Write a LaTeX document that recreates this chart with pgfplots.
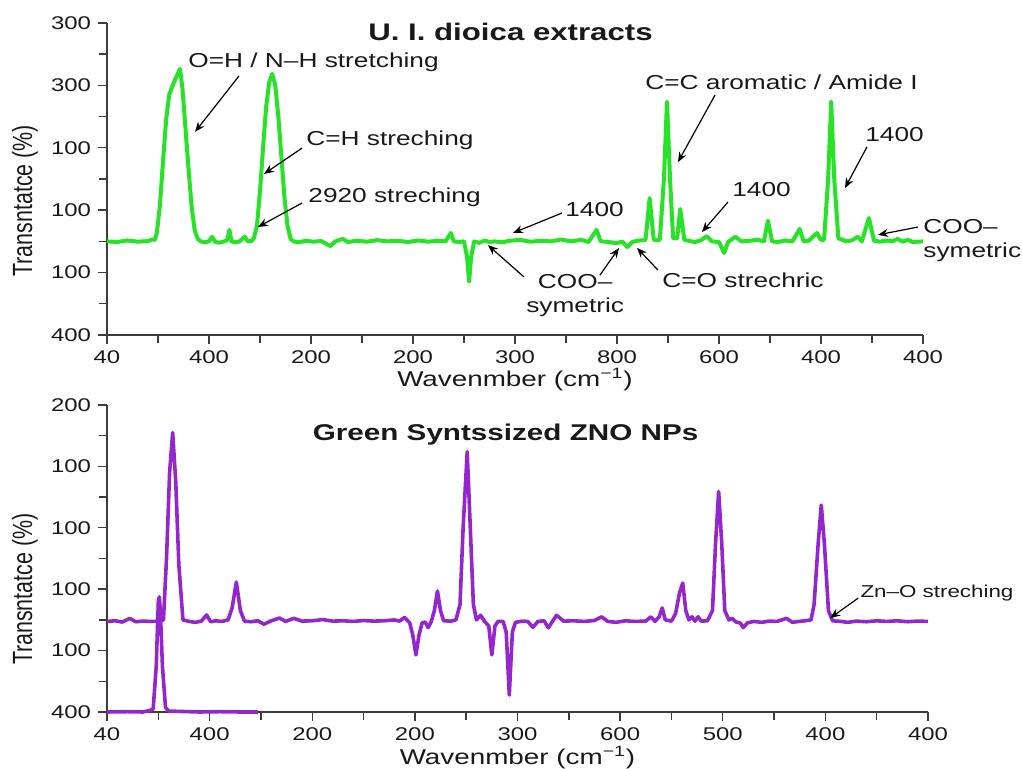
\documentclass[border=0pt]{standalone}
\usepackage{fontspec}
\setmainfont{Liberation Sans}[FakeStretch=1.3]
\newfontfamily\ylabfont{Liberation Sans}[FakeStretch=0.77]
\usepackage{pgfplots}
\pgfplotsset{compat=1.18}
\usetikzlibrary{arrows.meta}

\definecolor{irgreen}{RGB}{40,226,40}
\definecolor{irpurple}{RGB}{148,38,206}
\definecolor{axgray}{RGB}{60,60,60}
\definecolor{txt}{RGB}{25,25,25}

\pgfplotsset{
  irpanel/.style={
    scale only axis, anchor=south west, clip=false,
    xmin=0, xmax=8, ymin=0, ymax=10,
    axis lines*=left, axis line style={-, axgray, line width=0.75pt},
    tick align=outside, tick style={axgray, line width=0.7pt},
    major tick length=4.5pt, minor tick length=4pt,
    xtick={0,...,8}, ytick={0,2,...,10},
    minor x tick num=1, minor y tick num=1,
    /pgf/number format/assume math mode=true,
    tick label style={font=\fontsize{9.2}{10}\selectfont, text=txt},
    xlabel={Wavenmber (cm\textsuperscript{−1})},
    ylabel={Transntatce (\%)},
    xlabel style={font=\fontsize{10.7}{12}\selectfont, text=txt, anchor=center},
    ylabel style={font=\ylabfont\fontsize{13.9}{15}\selectfont, text=txt, anchor=center},
  },
}
\tikzset{
  annot/.style={font=\fontsize{10.1}{12}\selectfont, text=txt, inner sep=0pt},
  arr/.style={-{Stealth[length=5pt,width=4pt]}, line width=0.6pt, black},
}

\begin{document}
\begin{tikzpicture}
\useasboundingbox (0,0) rectangle (511pt,384.5pt);

% ---- top panel: plant extract ----
\begin{axis}[irpanel, at={(53.5pt,217pt)}, width=408pt, height=156pt,
  xticklabels={40,400,200,200,300,800,600,400,400},
  yticklabels={400,100,100,100,300,300},
  xlabel style={at={(axis description cs:0.5,-0.144)}},
  ylabel style={at={(axis description cs:-0.1005,0.43)}}]
\addplot[irgreen, line width=2pt, line join=round] coordinates {
(0.00,3.00) (0.10,2.98) (0.20,3.03) (0.30,2.99) (0.40,3.01) (0.44,3.06)
(0.47,3.05) (0.49,3.3) (0.52,4.2) (0.55,5.6) (0.58,6.9) (0.61,7.7) (0.627,7.85)
(0.67,8.2) (0.716,8.53) (0.74,7.9) (0.77,6.6) (0.80,5.3) (0.83,4.1) (0.86,3.35)
(0.89,3.08) (0.92,3.0) (0.96,2.97) (1.00,3.0) (1.03,3.15) (1.06,2.98) (1.10,2.96)
(1.15,3.0) (1.18,3.05) (1.20,3.37) (1.22,3.0) (1.26,2.97) (1.30,3.0) (1.35,3.15)
(1.38,3.0) (1.42,3.02) (1.44,3.1) (1.47,3.5) (1.50,4.6) (1.53,6.0) (1.56,7.3)
(1.59,8.1) (1.62,8.37) (1.65,8.0) (1.68,7.0) (1.71,5.7) (1.74,4.4) (1.77,3.5)
(1.80,3.08) (1.83,3.0) (1.88,2.97) (1.95,3.02) (2.02,2.99) (2.10,3.01) (2.19,2.85)
(2.24,3.0) (2.31,3.08) (2.36,2.98) (2.45,3.02) (2.55,2.99) (2.65,3.04) (2.75,3.0)
(2.85,3.02) (2.95,2.98) (3.05,3.03) (3.15,2.99) (3.25,3.02) (3.32,3.0) (3.37,3.27)
(3.40,3.0) (3.45,2.98) (3.50,3.0) (3.53,2.5) (3.55,1.71) (3.57,2.5) (3.60,3.0)
(3.65,2.95) (3.70,3.03) (3.75,2.98) (3.80,3.0) (3.87,2.97) (3.95,3.02) (4.05,3.05)
(4.15,2.99) (4.25,3.02) (4.35,3.0) (4.45,3.06) (4.55,3.0) (4.65,3.05) (4.72,2.98)
(4.80,3.37) (4.84,3.0) (4.90,2.99) (5.00,2.94) (5.05,3.0) (5.10,2.82) (5.15,2.98)
(5.20,3.02) (5.28,3.05) (5.32,4.39) (5.36,3.05) (5.42,3.05) (5.46,5.0) (5.49,7.48)
(5.52,5.0) (5.55,3.1) (5.59,3.1) (5.62,4.04) (5.66,3.05) (5.70,3.02) (5.76,2.98)
(5.82,3.03) (5.88,3.17) (5.93,3.0) (6.00,2.98) (6.05,2.63) (6.09,2.98) (6.16,3.15)
(6.22,3.0) (6.30,3.02) (6.38,3.05) (6.44,3.0) (6.48,3.66) (6.52,3.0) (6.58,2.98)
(6.65,3.03) (6.72,3.0) (6.79,3.40) (6.83,3.0) (6.88,3.02) (6.96,3.27) (7.00,3.05)
(7.03,3.05) (7.07,5.0) (7.10,7.48) (7.13,5.0) (7.17,3.1) (7.25,3.0) (7.30,3.03)
(7.36,3.15) (7.40,3.0) (7.47,3.75) (7.52,3.02) (7.58,2.99) (7.65,3.03) (7.70,3.0)
(7.75,3.08) (7.80,2.99) (7.85,3.05) (7.90,2.98) (8.00,3.0)
};
\node[font=\bfseries\fontsize{12}{14}\selectfont, text=txt] at (axis cs:3.956,9.72) {U. I. dioica extracts};
\node[annot, anchor=west] at (axis cs:0.794,8.75) {O=H / N–H stretching};
\draw[arr] (axis cs:1.294,8.30) -- (axis cs:0.863,6.51);
\node[annot, anchor=west] at (axis cs:1.951,6.25) {C=H streching};
\draw[arr] (axis cs:1.912,5.99) -- (axis cs:1.539,5.16);
\node[annot, anchor=west] at (axis cs:1.971,4.42) {2920 streching};
\draw[arr] (axis cs:1.912,4.23) -- (axis cs:1.480,3.46);
\node[annot, anchor=west] at (axis cs:4.49,4.01) {1400};
\draw[arr] (axis cs:4.461,3.91) -- (axis cs:3.980,3.27);
\node[annot, align=center] at (axis cs:4.59,1.28) {COO–\\symetric};
\draw[arr] (axis cs:4.088,1.86) -- (axis cs:3.735,2.88);
\draw[arr] (axis cs:4.833,1.92) -- (axis cs:5.020,2.79);
\node[annot, anchor=west] at (axis cs:5.441,1.76) {C=O strechric};
\draw[arr] (axis cs:5.402,2.08) -- (axis cs:5.196,2.79);
\node[annot, anchor=west] at (axis cs:5.275,8.11) {C=C aromatic / Amide I};
\draw[arr] (axis cs:5.961,7.69) -- (axis cs:5.598,5.54);
\node[annot, anchor=west] at (axis cs:7.431,6.41) {1400};
\draw[arr] (axis cs:7.451,6.03) -- (axis cs:7.235,4.71);
\node[annot, anchor=west] at (axis cs:6.127,4.65) {1400};
\draw[arr] (axis cs:6.088,4.26) -- (axis cs:5.833,3.30);
\node[annot, anchor=west, align=left] at (axis cs:8.0,3.04) {COO–\\symetric};
\draw[arr] (axis cs:7.951,3.46) -- (axis cs:7.559,3.21);
\end{axis}

% ---- bottom panel: ZnO nanoparticles ----
\begin{axis}[irpanel, at={(53.5pt,28.5pt)}, width=410.5pt, height=153.5pt,
  xticklabels={40,400,200,200,300,600,500,400,400},
  yticklabels={400,100,100,100,100,200},
  xlabel style={at={(axis description cs:0.5,-0.147)}},
  ylabel style={at={(axis description cs:-0.0999,0.40)}}]
\addplot[irpurple, line width=1.8pt, line join=round] coordinates {
(0.00,0.0) (0.20,0.01) (0.35,0.0) (0.42,0.05) (0.45,0.1) (0.48,1.5) (0.50,3.6)
(0.51,3.75) (0.52,3.3) (0.54,1.5) (0.57,0.15) (0.60,0.03) (0.70,0.02) (0.90,0.0)
(1.10,0.01) (1.30,0.0) (1.47,0.0)
};
\addplot[irpurple, line width=1.8pt, line join=round] coordinates {
(0.00,2.95) (0.08,2.97) (0.15,2.93) (0.22,3.05) (0.28,2.94) (0.35,2.96) (0.42,2.95)
(0.50,2.95) (0.55,3.0) (0.58,5.0) (0.61,7.8) (0.64,9.10) (0.67,7.5) (0.70,4.8)
(0.74,3.0) (0.80,2.95) (0.86,2.92) (0.92,2.96) (0.97,3.16) (1.01,2.94) (1.06,2.97)
(1.12,2.95) (1.18,3.0) (1.22,3.4) (1.26,4.23) (1.30,3.3) (1.34,2.96) (1.40,2.94)
(1.47,2.97) (1.53,2.86) (1.60,2.97) (1.68,3.06) (1.74,2.95) (1.82,3.05) (1.90,2.96)
(2.00,2.97) (2.10,3.01) (2.20,2.96) (2.30,2.97) (2.40,2.95) (2.50,2.98) (2.60,2.96)
(2.70,2.97) (2.80,3.0) (2.85,2.96) (2.90,3.08) (2.95,2.9) (2.98,2.5) (3.01,1.86)
(3.04,2.5) (3.07,2.9) (3.10,2.93) (3.13,2.75) (3.16,2.95) (3.19,3.3) (3.22,3.94)
(3.25,3.3) (3.28,2.97) (3.35,2.96) (3.40,3.0) (3.44,3.5) (3.47,6.0) (3.51,8.48)
(3.54,6.0) (3.57,3.5) (3.60,3.0) (3.64,3.15) (3.68,2.95) (3.72,2.8) (3.75,1.86)
(3.78,2.8) (3.81,2.95) (3.86,2.95) (3.89,2.6) (3.92,0.55) (3.95,2.6) (3.98,2.92)
(4.05,2.96) (4.10,2.95) (4.15,2.76) (4.20,2.95) (4.26,2.97) (4.30,2.74) (4.34,2.95)
(4.38,3.15) (4.45,2.96) (4.55,2.97) (4.65,2.95) (4.75,2.98) (4.82,3.1) (4.88,2.95)
(4.96,2.92) (5.05,2.97) (5.15,2.95) (5.25,2.96) (5.30,3.1) (5.34,2.95) (5.38,3.1)
(5.41,3.39) (5.44,3.0) (5.50,2.96) (5.54,3.2) (5.58,3.9) (5.61,4.20) (5.64,3.3)
(5.67,3.0) (5.70,3.1) (5.73,2.96) (5.76,3.1) (5.79,2.96) (5.85,2.97) (5.90,3.3)
(5.93,5.5) (5.96,7.18) (5.99,5.5) (6.02,3.3) (6.06,3.0) (6.09,3.05) (6.13,2.93)
(6.17,2.9) (6.20,2.75) (6.24,2.9) (6.30,2.95) (6.38,2.92) (6.45,2.96) (6.53,2.95)
(6.62,3.05) (6.68,2.92) (6.74,2.95) (6.80,2.97) (6.86,3.0) (6.89,3.5) (6.93,5.5)
(6.96,6.74) (6.99,5.5) (7.03,3.3) (7.07,2.97) (7.15,2.95) (7.22,2.92) (7.30,2.96)
(7.40,2.94) (7.50,2.97) (7.60,2.95) (7.70,2.97) (7.80,2.94) (7.90,2.96) (8.00,2.95)
};
\node[font=\bfseries\fontsize{11.4}{14}\selectfont, text=txt] at (axis cs:3.884,9.02) {Green Syntssized ZNO NPs};
\node[annot, anchor=west, font=\fontsize{8.6}{10}\selectfont] at (axis cs:7.339,3.88) {Zn–O streching};
\draw[arr] (axis cs:7.320,3.71) -- (axis cs:7.047,3.06);
\end{axis}
\end{tikzpicture}
\end{document}
